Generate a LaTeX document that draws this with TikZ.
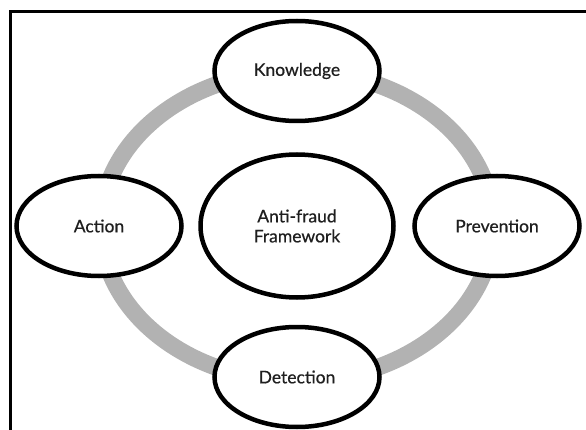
\documentclass[tikz,border=0pt]{standalone}
\usepackage{fontspec}
\setmainfont{Lato}[FakeBold=0.6]
\usetikzlibrary{shapes.geometric,positioning}
\definecolor{ringcolor}{rgb}{0.70, 0.70, 0.70}
\definecolor{textcolor}{rgb}{0.12, 0.12, 0.12}
\tikzset{
	phase/.style={
		ellipse,
		line width=4.5pt,
		draw=black,
		fill=white,
		text=textcolor,
		font=\fontsize{17.5}{20}\selectfont,
		minimum width=165pt,
		minimum height=100pt
	},
	core/.style={
		phase,
		minimum width=193pt,
		minimum height=143pt,
		align=center
	},
	ring/.style={
		draw=ringcolor,
		line width=17pt
	},
	frame/.style={
		draw=black,
		line width=3.5pt
	}
}

\begin{document}
\begin{tikzpicture}[node distance=155pt and 198pt,on grid]
\useasboundingbox (0,0) rectangle (586pt,429pt);
\coordinate (mid) at (297pt,203pt);
% grey cycle behind the nodes
\draw[ring] (mid) ellipse [x radius=196pt, y radius=155pt];
\node[core] (fw) at (mid) {Anti-fraud\\Framework};
\node[phase] (know) [above=of fw] {Knowledge};
\node[phase] (prev) [right=of fw,xshift=2pt] {Prevention};
\node[phase] (detect) [below=of fw,yshift=4pt] {Detection};
\node[phase] (act) [left=of fw] {Action};
% outer box, only top and left edges show
\coordinate (fr) at (590pt,417.5pt);
\coordinate (fc) at (10.5pt,417.5pt);
\coordinate (fb) at (10.5pt,-5pt);
\draw[frame] (fr) -- (fc) -- (fb);
\end{tikzpicture}
\end{document}
